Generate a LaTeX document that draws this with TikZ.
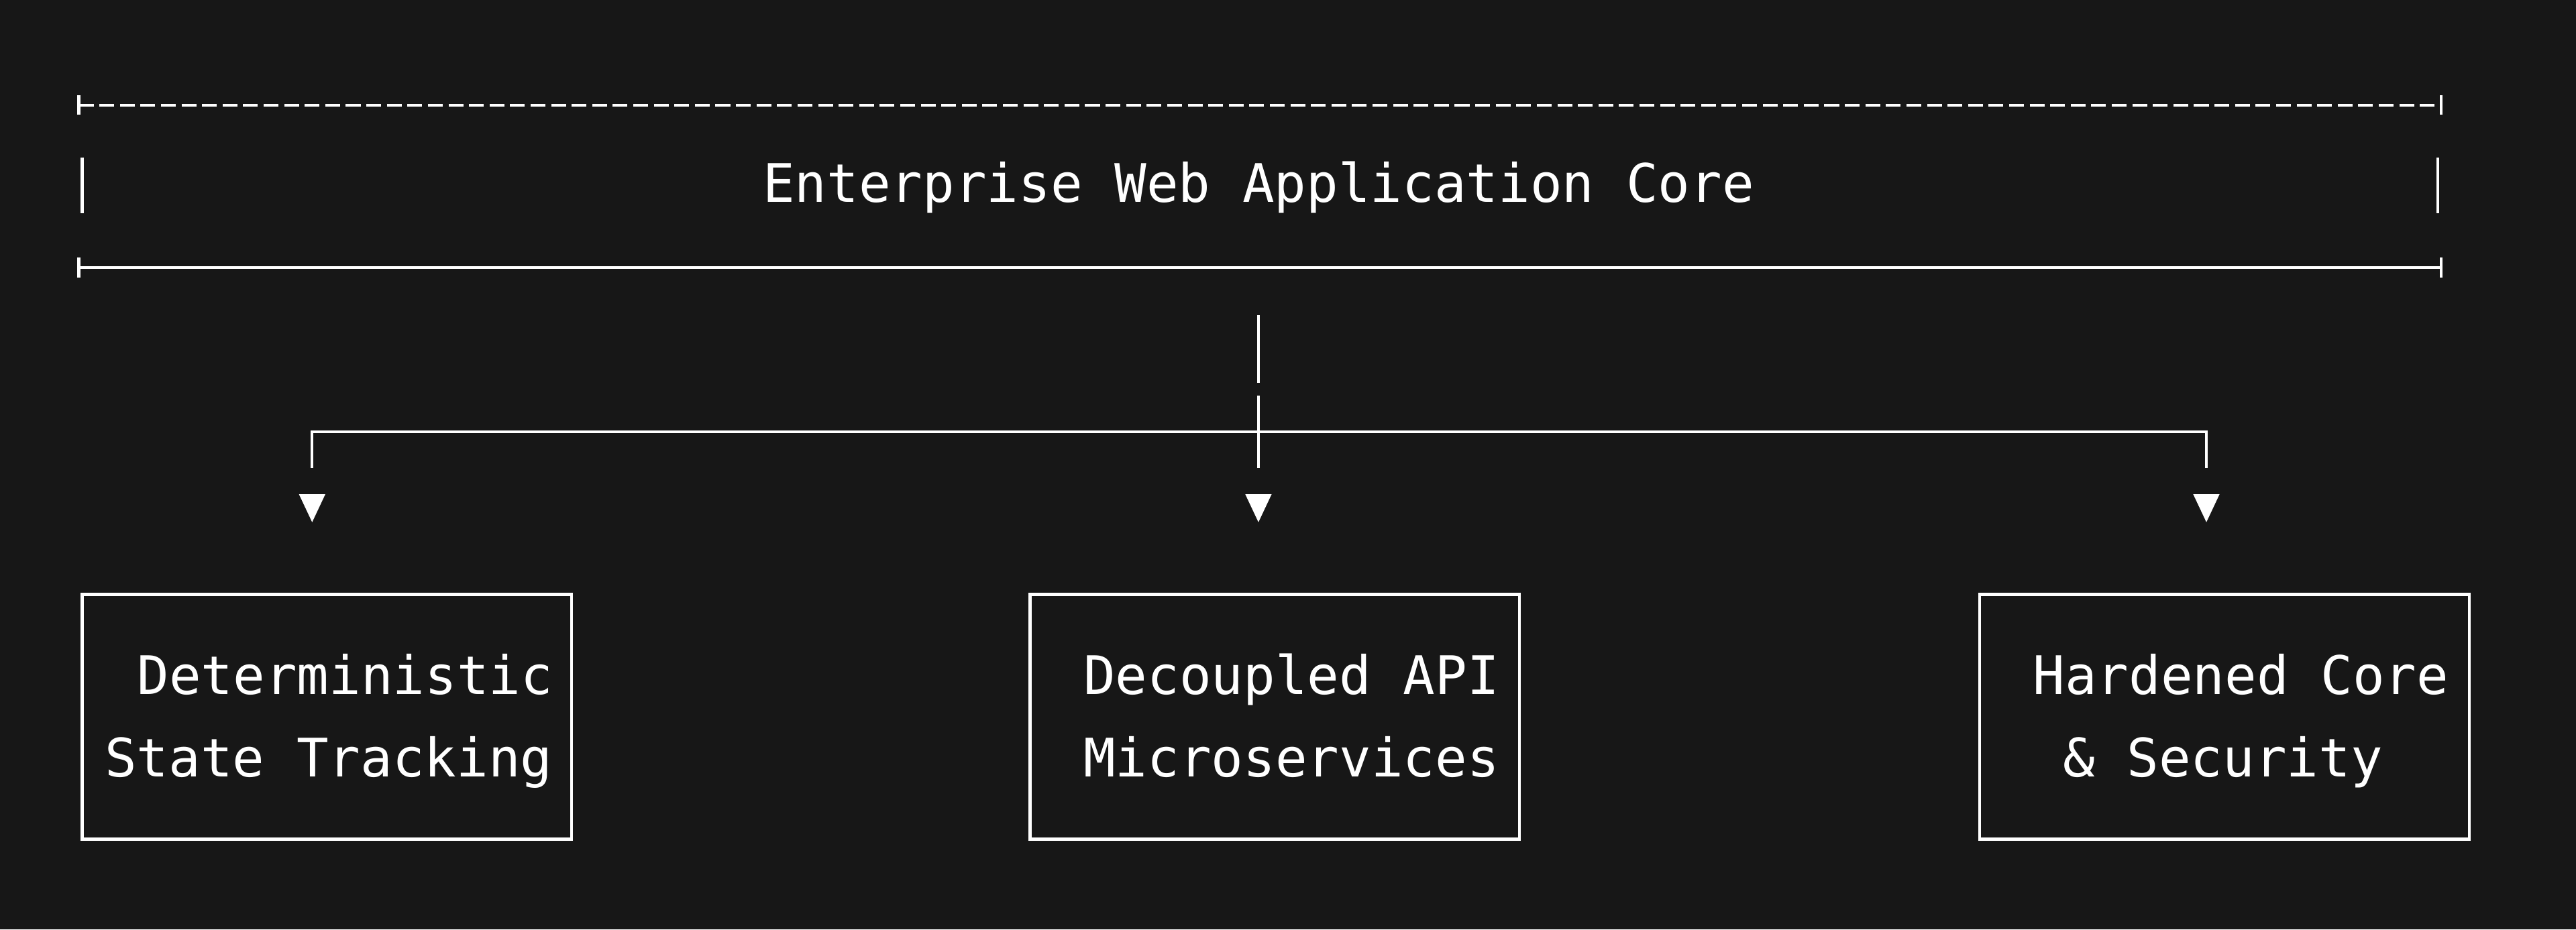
\documentclass[tikz,border=0pt]{standalone}
\usepackage{fontspec}
\setmonofont{DejaVu Sans Mono}
\usetikzlibrary{calc}
\begin{document}
\begin{tikzpicture}[x=0.1cm,y=-0.1cm,
  ln/.style={draw=white,line width=5pt},
  dl/.style={ln,dash pattern=on 0.9cm off 0.35cm},
  txt/.style={text=white,font=\ttfamily\fontsize{92}{100}\selectfont,inner sep=0pt,anchor=base},
  tri/.style={fill=white,draw=none}]
\useasboundingbox[fill=black!91!white] (0,0) rectangle (1568,566);
% top box
\coordinate (tl) at (48,64); \coordinate (tr) at (1486,64);
\coordinate (bl) at (48,163); \coordinate (br) at (1486,163);
\draw[dl] (tl) -- (tr);
\draw[ln] (bl) -- (br);
\foreach \p in {tl,tr,bl,br}{\draw[ln] ($(\p)+(0,-6)$) -- ($(\p)+(0,6)$);}
\draw[ln] (50,96) -- (50,130);
\draw[ln] (1484,96) -- (1484,130);
\node[txt] (title) at (766,123) {Enterprise Web Application Core};
% connectors
\coordinate (c0) at (766,192);
\coordinate (cm) at (766,263);
\coordinate (cl) at (190,263);
\coordinate (cr) at (1343,263);
\draw[ln] (c0) -- (766,233);
\draw[ln] (766,241) -- (766,285);
\draw[ln] (190,285) -- (cl) -- (cr) -- (1343,285);
\foreach \x in {190,766,1343}{\fill[white] (\x-8,301) -- (\x+8,301) -- (\x,318) -- cycle;}
% boxes
\foreach \x/\n in {50/a,627/b,1205/c}{
  \draw[ln] (\x,362) rectangle (\x+298,511);
}
\node[txt] (a1) at (210,423) {Deterministic};
\node[txt] (a2) at (200,473) {State Tracking};
\node[txt] (b1) at (786,423) {Decoupled API};
\node[txt] (b2) at (786,473) {Microservices};
\node[txt] (c1) at (1364,423) {Hardened Core};
\node[txt] (c2) at (1353,473) {\& Security};
\end{tikzpicture}
\end{document}
